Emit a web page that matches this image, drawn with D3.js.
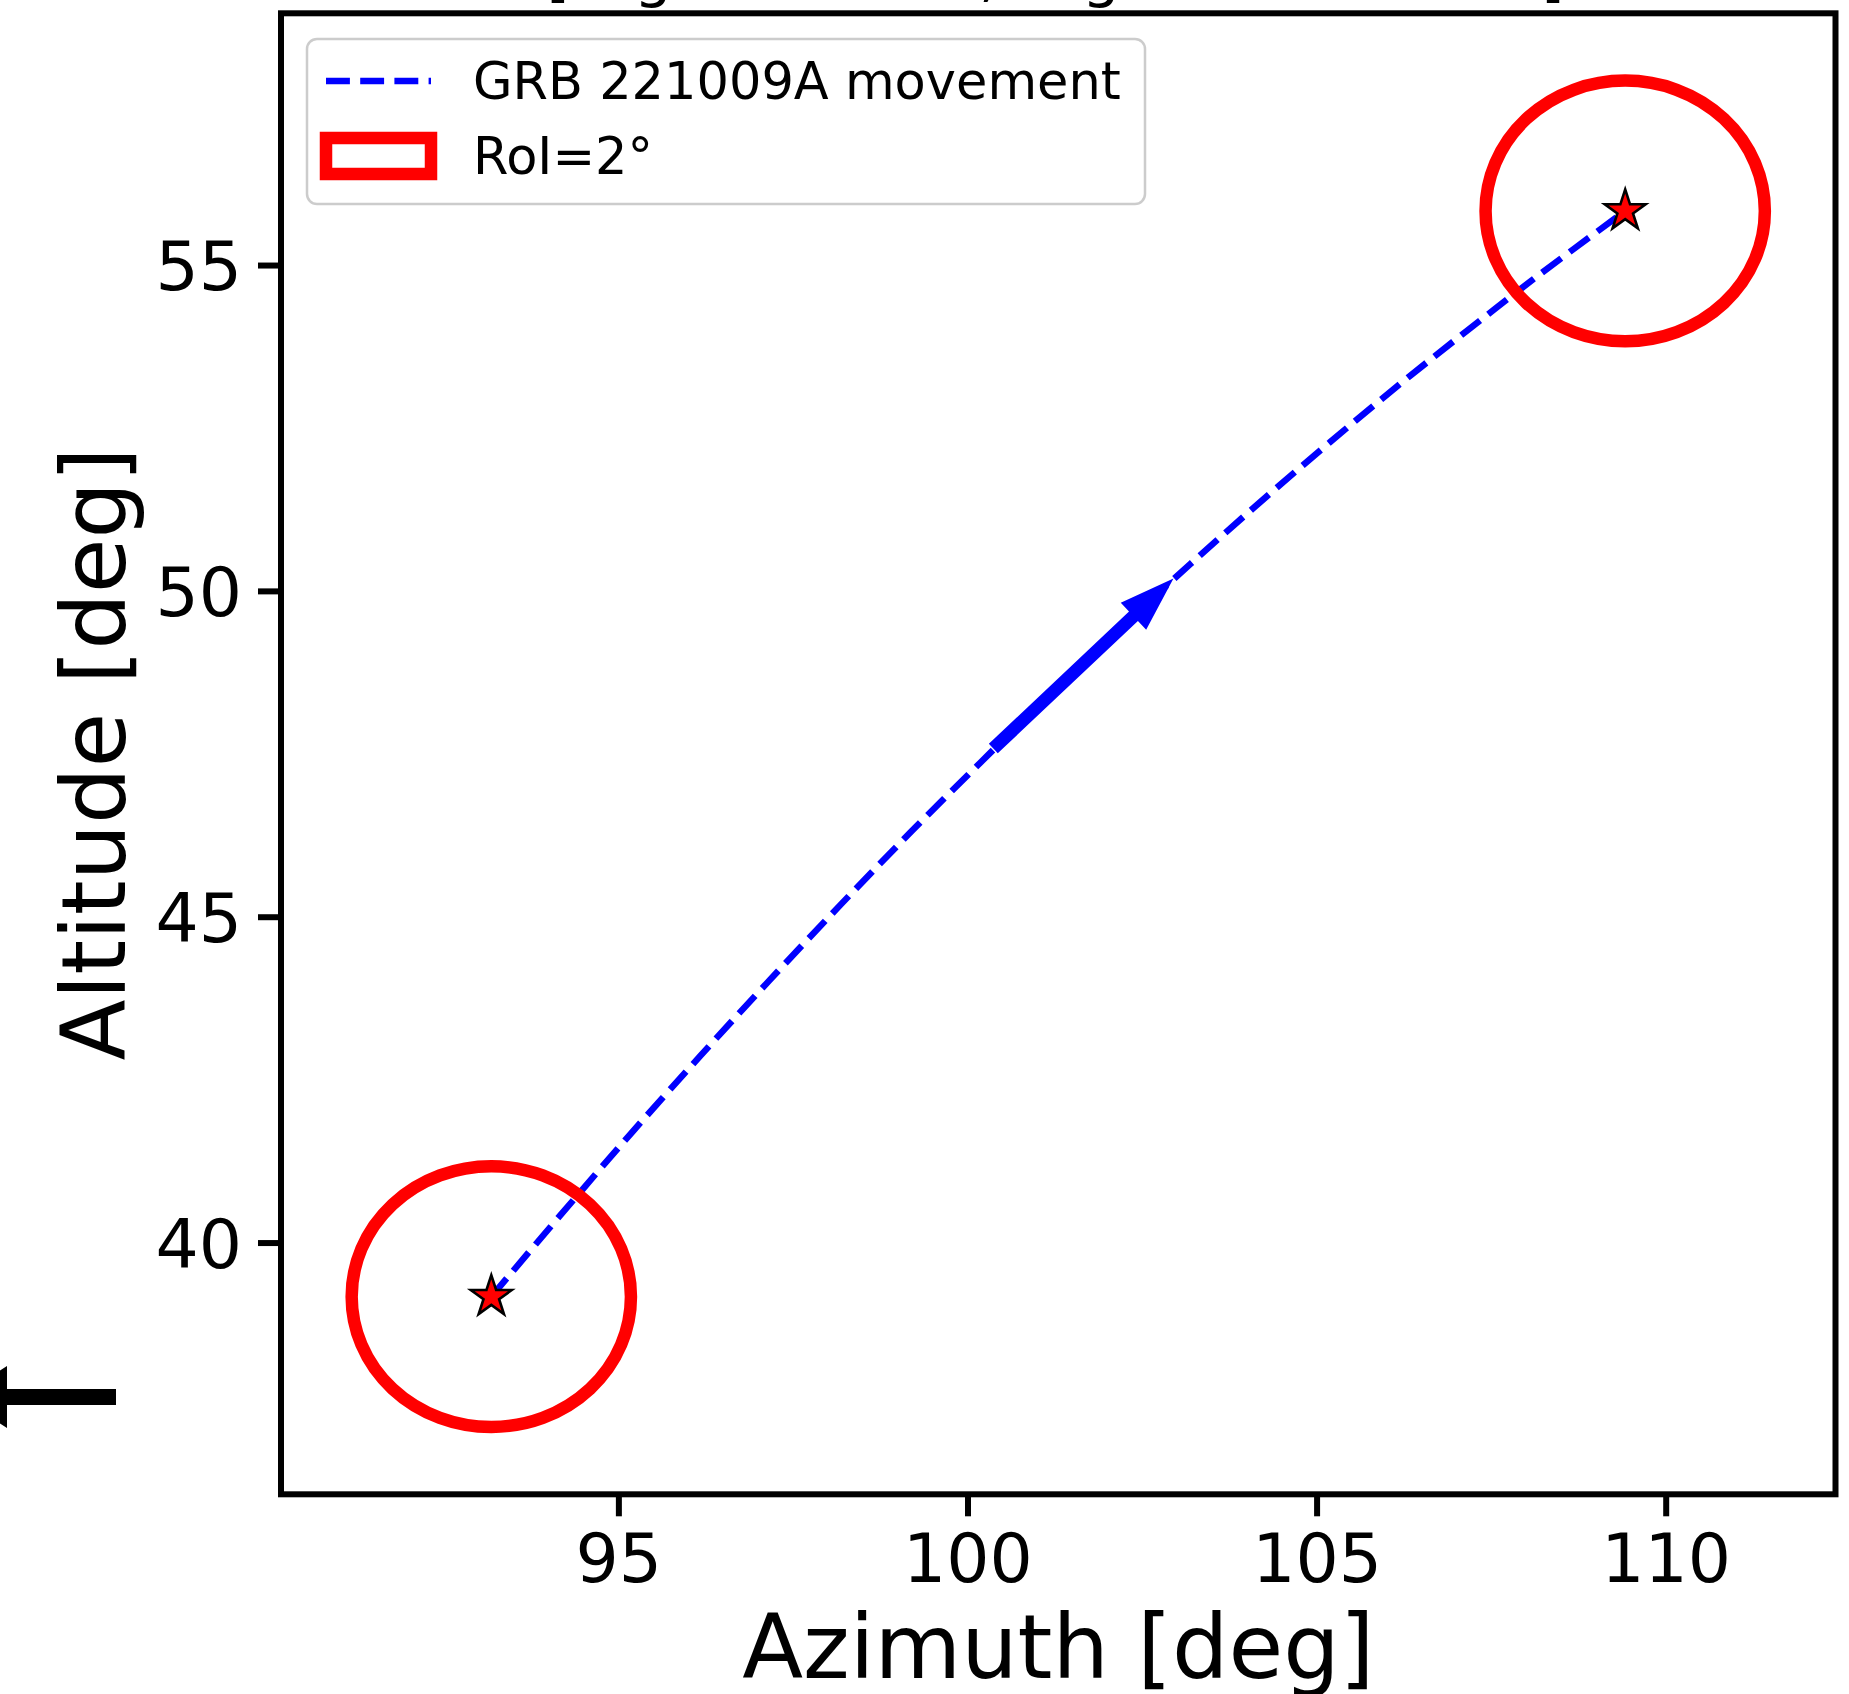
<!DOCTYPE html>
<html>
<head>
<meta charset="utf-8">
<script src="https://cdn.jsdelivr.net/npm/d3@7"></script>
<style>
  html, body { margin: 0; padding: 0; background: #ffffff; }
  svg { display: block; }
  text { font-family: "DejaVu Sans", sans-serif; fill: #000; }
</style>
</head>
<body>
<svg id="chart" width="1849" height="1694"></svg>
<script>
// ---- data -------------------------------------------------------------
// Sky track of GRB 221009A (azimuth / altitude in degrees)
const trackAzimuth  = [93.18, 94.17, 95.17, 96.17, 97.17, 98.17, 99.17, 100.18, 101.18,
                       102.18, 103.19, 104.19, 105.19, 106.19, 107.20, 108.20, 109.42];
const trackAltitude = [39.17, 40.42, 41.66, 42.86, 44.03, 45.17, 46.28, 47.36, 48.41,
                       49.42, 50.41, 51.36, 52.28, 53.17, 54.03, 54.86, 55.83];

// start / end positions of the source, each with its region of interest
const sourceAzimuth  = [93.18, 109.42];
const sourceAltitude = [39.17, 55.83];
const roiRadius = 2;   // degrees

// direction-of-motion arrow (from -> to), in azimuth / altitude
const arrowAzimuth  = [100.37, 102.95];
const arrowAltitude = [47.58, 50.19];

const xTicks = [95, 100, 105, 110];
const yTicks = [40, 45, 50, 55];

const legendLabels = ["GRB 221009A movement", "RoI=2\u00b0"];

// ---- layout -----------------------------------------------------------
const svg = d3.select("#chart");
const frame = { left: 281, right: 1835.5, top: 13.3, bottom: 1494.3 };

// auto-limits: extent of the RoI circles plus a 5% margin on each side
function paddedDomain(values) {
  const lo = d3.min(values) - roiRadius, hi = d3.max(values) + roiRadius;
  const m = 0.05 * (hi - lo);
  return [lo - m, hi + m];
}

const x = d3.scaleLinear().domain(paddedDomain(sourceAzimuth)).range([frame.left, frame.right]);
const y = d3.scaleLinear().domain(paddedDomain(sourceAltitude)).range([frame.bottom, frame.top]);

// ---- clipped title of the panel above (only its descenders show) -------
const titleFrag = svg.append("g").attr("font-size", 60);
[["[", 546.6], ["g", 634], [",", 979], ["g", 1082], ["]", 1541]].forEach(([ch, px]) => {
  titleFrag.append("text").attr("x", px).attr("y", -5.5).text(ch);
});

// ---- off-panel annotation arrow at the left edge ------------------------
svg.append("path")
  .attr("d", "M116,1389 L7,1389 L7,1366 L-41,1397 L7,1428 L7,1405 L116,1405 Z")
  .attr("fill", "#000");

// ---- plot contents -----------------------------------------------------
const plotArea = svg.append("g");

const track = trackAzimuth.map((a, i) => [a, trackAltitude[i]]);
plotArea.append("path")
  .datum(track)
  .attr("fill", "none")
  .attr("stroke", "#0000ff")
  .attr("stroke-width", 6.45)
  .attr("stroke-dasharray", "23.9,10.3")
  .attr("d", d3.line().x(d => x(d[0])).y(d => y(d[1])).curve(d3.curveCatmullRom.alpha(0.5)));

// filled arrow along the track
(function drawArrow() {
  const x0 = x(arrowAzimuth[0]), y0 = y(arrowAltitude[0]);
  const x1 = x(arrowAzimuth[1]), y1 = y(arrowAltitude[1]);
  const len = Math.hypot(x1 - x0, y1 - y0);
  const ux = (x1 - x0) / len, uy = (y1 - y0) / len;   // along
  const nx = -uy, ny = ux;                             // normal
  const shaftW = 13, headW = 37, headL = 55;
  const bx = x1 - ux * headL, by = y1 - uy * headL;
  const pts = [
    [x0 + nx * shaftW / 2, y0 + ny * shaftW / 2],
    [bx + nx * shaftW / 2, by + ny * shaftW / 2],
    [bx + nx * headW / 2, by + ny * headW / 2],
    [x1, y1],
    [bx - nx * headW / 2, by - ny * headW / 2],
    [bx - nx * shaftW / 2, by - ny * shaftW / 2],
    [x0 - nx * shaftW / 2, y0 - ny * shaftW / 2]
  ];
  plotArea.append("path")
    .attr("d", "M" + pts.map(p => p.join(",")).join("L") + "Z")
    .attr("fill", "#0000ff");
})();

const sources = sourceAzimuth.map((a, i) => ({ az: a, alt: sourceAltitude[i] }));

// RoI circles (2 deg radius in data units)
plotArea.selectAll("ellipse.roi")
  .data(sources)
  .join("ellipse")
  .attr("class", "roi")
  .attr("cx", d => x(d.az))
  .attr("cy", d => y(d.alt))
  .attr("rx", d => x(d.az + roiRadius) - x(d.az))
  .attr("ry", d => y(d.alt) - y(d.alt + roiRadius))
  .attr("fill", "none")
  .attr("stroke", "#ff0000")
  .attr("stroke-width", 12.5);

// star markers at the source positions
const starR = 21.5;
plotArea.selectAll("path.star")
  .data(sources)
  .join("path")
  .attr("class", "star")
  .attr("transform", d => `translate(${x(d.az)},${y(d.alt)})`)
  .attr("d", d3.symbol().type(d3.symbolStar).size(starR * starR / 0.8908130915292852))
  .attr("fill", "#ff0000")
  .attr("stroke", "#000")
  .attr("stroke-width", 2.6)
  .attr("stroke-linejoin", "miter");

// ---- axes --------------------------------------------------------------
const xAxis = svg.append("g")
  .attr("transform", `translate(0,${frame.bottom})`)
  .call(d3.axisBottom(x).tickValues(xTicks).tickSize(22).tickFormat(d3.format("d")));
xAxis.select(".domain").remove();
xAxis.selectAll(".tick line").attr("stroke", "#000").attr("stroke-width", 6);
xAxis.selectAll(".tick text")
  .attr("y", 87.7).attr("dy", 0)
  .attr("font-size", 68).attr("font-family", "DejaVu Sans").attr("fill", "#000");

const yAxis = svg.append("g")
  .attr("transform", `translate(${frame.left},0)`)
  .call(d3.axisLeft(y).tickValues(yTicks).tickSize(23).tickFormat(d3.format("d")));
yAxis.select(".domain").remove();
yAxis.selectAll(".tick line").attr("stroke", "#000").attr("stroke-width", 6);
yAxis.selectAll(".tick text")
  .attr("x", -39).attr("dy", 0).attr("y", 24.8)
  .attr("text-anchor", "end")
  .attr("font-size", 68).attr("font-family", "DejaVu Sans").attr("fill", "#000");

// frame
svg.append("rect")
  .attr("x", frame.left).attr("y", frame.top)
  .attr("width", frame.right - frame.left).attr("height", frame.bottom - frame.top)
  .attr("fill", "none").attr("stroke", "#000").attr("stroke-width", 6);

// axis titles
svg.append("text")
  .attr("x", (frame.left + frame.right) / 2).attr("y", 1678)
  .attr("text-anchor", "middle").attr("font-size", 89)
  .text("Azimuth [deg]");

svg.append("text")
  .attr("transform", `translate(125,${(frame.top + frame.bottom) / 2}) rotate(-90)`)
  .attr("text-anchor", "middle").attr("font-size", 89)
  .text("Altitude [deg]");

// ---- legend --------------------------------------------------------------
const legend = svg.append("g");
legend.append("rect")
  .attr("x", 307).attr("y", 39).attr("width", 838).attr("height", 165)
  .attr("rx", 10).attr("ry", 10)
  .attr("fill", "#ffffff").attr("fill-opacity", 0.8)
  .attr("stroke", "#cccccc").attr("stroke-width", 2.5);

legend.append("line")
  .attr("x1", 326).attr("x2", 431).attr("y1", 81).attr("y2", 81)
  .attr("stroke", "#0000ff").attr("stroke-width", 6.45)
  .attr("stroke-dasharray", "23.9,10.3");

legend.append("rect")
  .attr("x", 326).attr("y", 138).attr("width", 105).attr("height", 36)
  .attr("fill", "none").attr("stroke", "#ff0000").attr("stroke-width", 12.5);

legend.selectAll("text.lab")
  .data(legendLabels)
  .join("text")
  .attr("class", "lab")
  .attr("x", 473)
  .attr("y", (d, i) => [98.5, 174][i])
  .attr("font-size", 51)
  .text(d => d);
</script>
</body>
</html>
